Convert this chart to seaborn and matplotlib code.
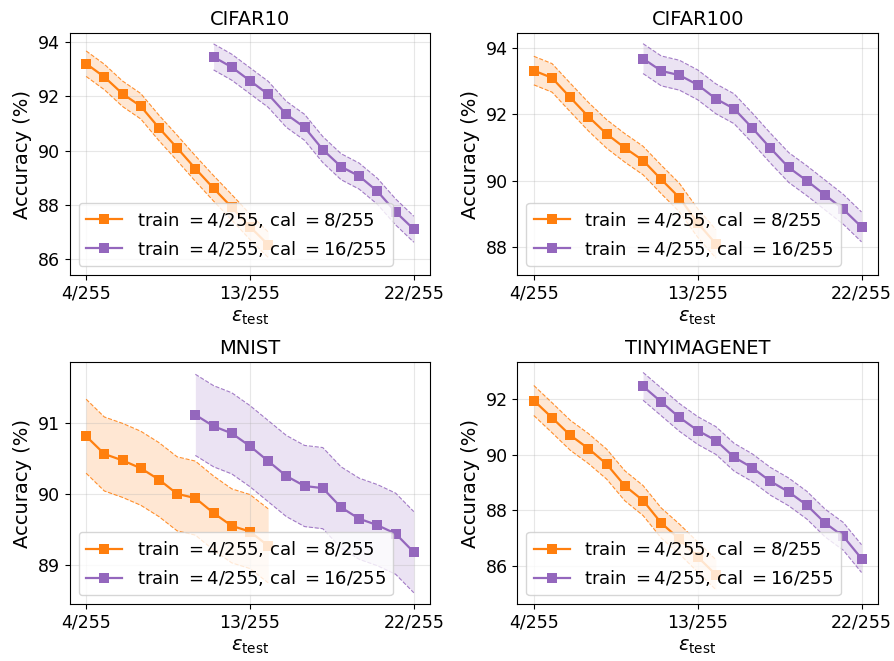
import numpy as np
import pandas as pd
import matplotlib
matplotlib.use("Agg")
import matplotlib.pyplot as plt
import seaborn as sns

# ---------------- data ----------------
datasets = ["CIFAR10", "CIFAR100", "MNIST", "TINYIMAGENET"]
series_labels = [r"train $=4/255$, cal $=8/255$", r"train $=4/255$, cal $=16/255$"]
series_colors = ["#ff7f0e", "#9467bd"]

xtick_pos = [4, 13, 22]
xtick_labels = ["4/255", "13/255", "22/255"]

eps_orange = [4, 5, 6, 7, 8, 9, 10, 11, 12, 13, 14]
eps_purple_cifar10 = [11, 12, 13, 14, 15, 16, 17, 18, 19, 20, 21, 22]
eps_purple = [10, 11, 12, 13, 14, 15, 16, 17, 18, 19, 20, 21, 22]

cifar10_orange = [93.21, 92.72, 92.10, 91.64, 90.84, 90.10, 89.34, 88.61, 87.91, 87.19, 86.53]
cifar10_purple = [93.46, 93.08, 92.58, 92.08, 91.34, 90.86, 90.04, 89.41, 89.06, 88.50, 87.74, 87.10]
cifar100_orange = [93.32, 93.10, 92.51, 91.93, 91.41, 90.99, 90.61, 90.04, 89.49, 88.73, 88.10]
cifar100_purple = [93.68, 93.31, 93.18, 92.89, 92.47, 92.17, 91.59, 90.98, 90.40, 90.00, 89.57, 89.14, 88.61]
mnist_orange = [90.81, 90.56, 90.47, 90.36, 90.20, 90.00, 89.94, 89.73, 89.55, 89.47, 89.27]
mnist_purple = [91.11, 90.95, 90.85, 90.67, 90.46, 90.25, 90.11, 90.08, 89.81, 89.65, 89.56, 89.44, 89.18]
tiny_orange = [91.95, 91.33, 90.70, 90.22, 89.66, 88.88, 88.35, 87.54, 86.96, 86.32, 85.68]
tiny_purple = [92.46, 91.90, 91.34, 90.87, 90.51, 89.91, 89.53, 89.04, 88.66, 88.18, 87.54, 87.06, 86.26]

# half-width of the shaded band (per series)
band_cifar10 = [0.47, 0.48]
band_cifar100 = [0.43, 0.45]
band_mnist = [0.52, 0.57]
band_tiny = [0.54, 0.50]

ylims = [(85.41, 94.34), (87.16, 94.45), (88.45, 91.85), (84.62, 93.33)]
yticks = [[86, 88, 90, 92, 94], [88, 90, 92, 94], [89, 90, 91], [86, 88, 90, 92]]

panels = [
    ((eps_orange, cifar10_orange), (eps_purple_cifar10, cifar10_purple), band_cifar10),
    ((eps_orange, cifar100_orange), (eps_purple, cifar100_purple), band_cifar100),
    ((eps_orange, mnist_orange), (eps_purple, mnist_purple), band_mnist),
    ((eps_orange, tiny_orange), (eps_purple, tiny_purple), band_tiny),
]

# ---------------- plot ----------------
fig, axes = plt.subplots(2, 2, figsize=(8.94, 6.61), dpi=100)
fig.subplots_adjust(left=0.078, right=0.982, top=0.950, bottom=0.086,
                    wspace=0.242, hspace=0.36)

for ax, name, (s1, s2, bands), yl, yt in zip(axes.flat, datasets, panels, ylims, yticks):
    for (xs, ys), lab, col, hw in zip([s1, s2], series_labels, series_colors, bands):
        df = pd.DataFrame({"eps": xs, "acc": ys})
        y = np.array(ys)
        lo, hi = y - hw, y + hw
        ax.fill_between(xs, lo, hi, color=col, alpha=0.18, linewidth=0)
        ax.plot(xs, lo, "--", color=col, lw=0.8, alpha=0.85)
        ax.plot(xs, hi, "--", color=col, lw=0.8, alpha=0.85)
        sns.lineplot(data=df, x="eps", y="acc", ax=ax, color=col, marker="s",
                     markersize=7, markeredgewidth=0, linewidth=1.6, label=lab)
    ax.set_title(name, fontsize=14)
    ax.set_xticks(xtick_pos)
    ax.set_xticklabels(xtick_labels, fontsize=12.5)
    ax.set_yticks(yt)
    ax.tick_params(axis="y", labelsize=12.5)
    ax.set_ylim(*yl)
    ax.set_xlim(3.1, 22.9)
    ax.set_xlabel(r"$\varepsilon_{\mathrm{test}}$", fontsize=14)
    ax.set_ylabel("Accuracy (%)", fontsize=14)
    ax.grid(True, color="#b0b0b0", alpha=0.3, linewidth=0.8)
    ax.legend(loc="lower left", fontsize=13)

fig.savefig("out.png", dpi=100)
